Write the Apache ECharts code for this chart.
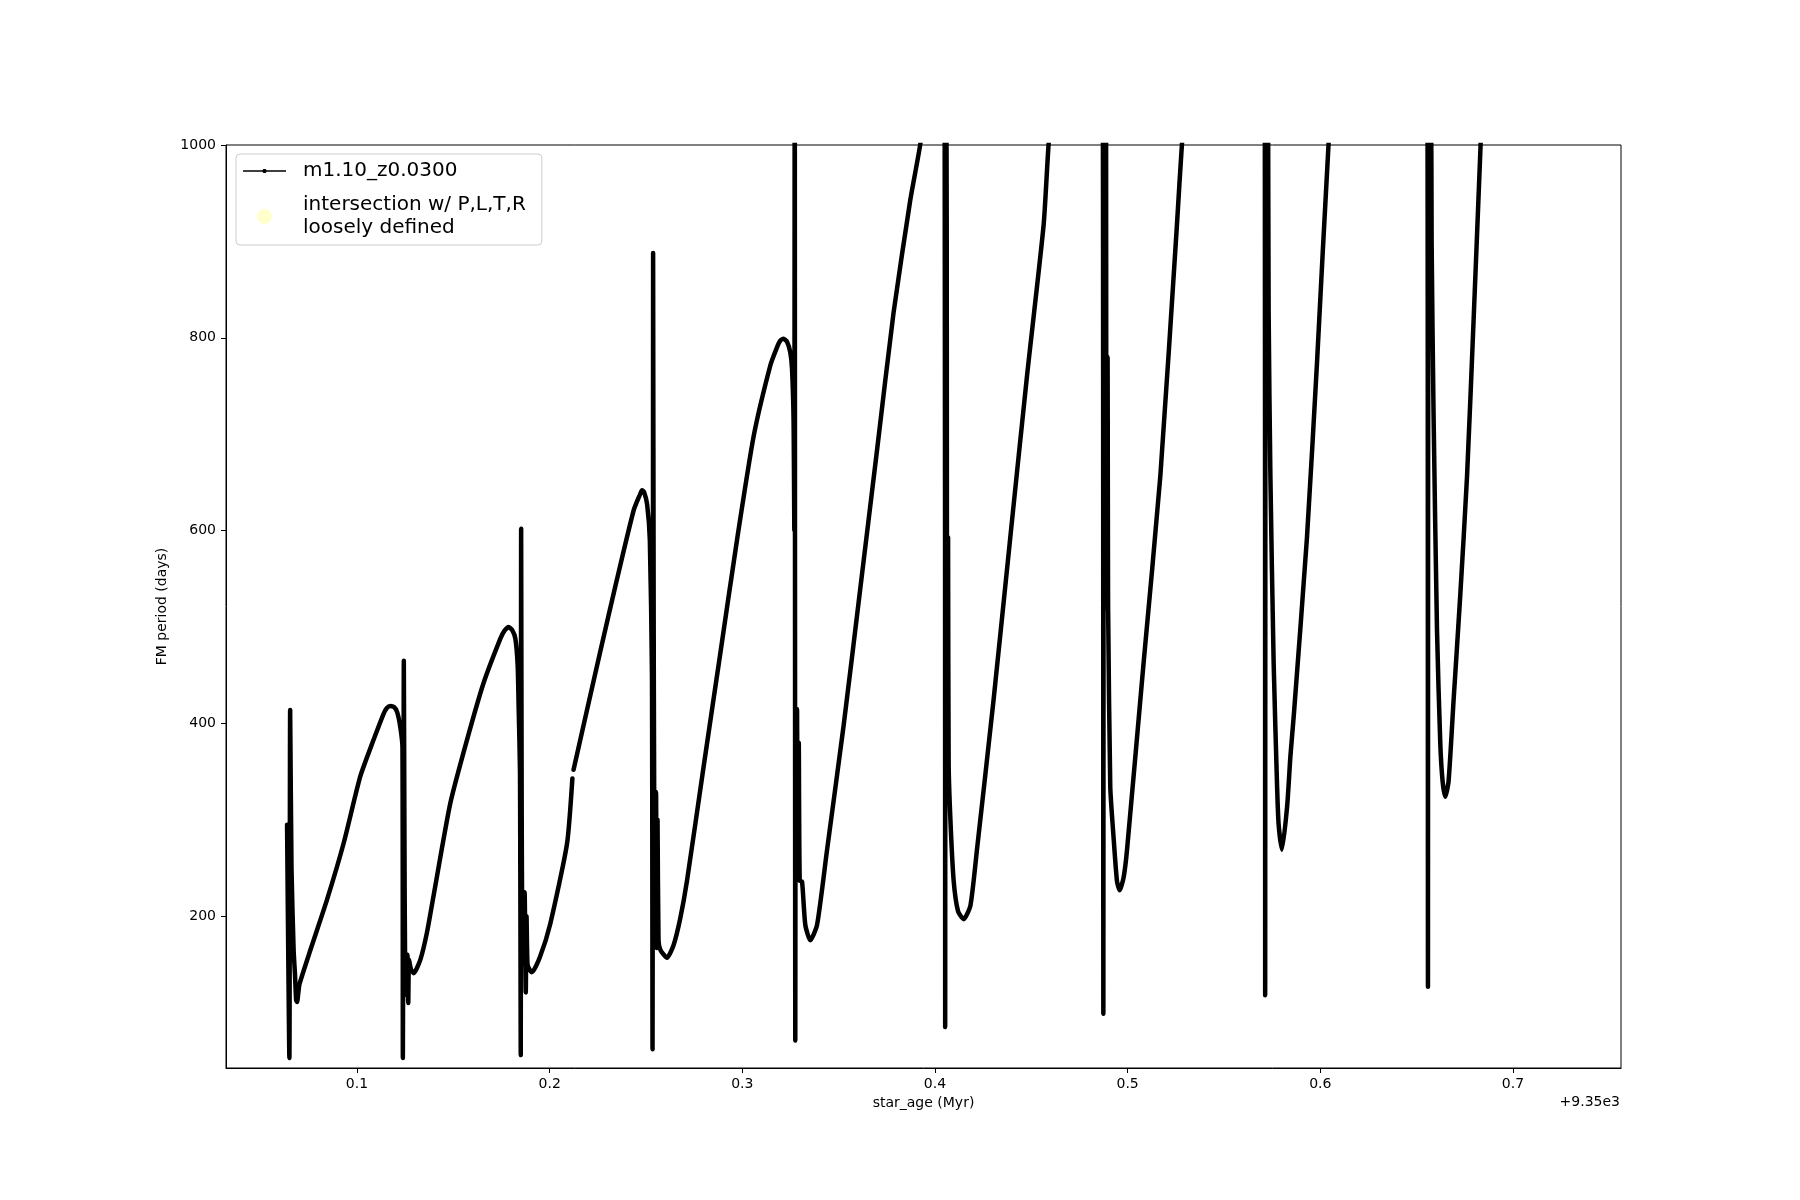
<!DOCTYPE html>
<html><head><meta charset="utf-8">
<script src="https://cdn.jsdelivr.net/npm/echarts@6/dist/echarts.min.js"></script>
<style>html,body{margin:0;padding:0;background:#fff}#chart{width:1800px;height:1200px}</style>
</head><body><div id="chart"></div>
<script>
// star_age is plotted relative to this offset (Myr), shown as "+9.35e3"
const ageOffset = 9350;
// star_age - 9350 (Myr)
const ages = [
  0.0637,0.0649,0.0653,0.0660,0.0671,0.0678,0.0684,0.0689,0.0695,0.0702,
  0.0758,0.0844,0.0931,0.1017,0.1086,0.1138,0.1155,0.1173,0.1192,0.1208,0.1225,0.1236,
  0.1238,0.1241,0.1243,0.1246,0.1250,0.1258,0.1262,0.1266,0.1270,0.1280,0.1294,
  0.1329,0.1363,0.1398,0.1484,0.1571,0.1657,0.1744,0.1765,0.1787,0.1805,0.1822,0.1834,0.1839,0.1846,
  0.1850,0.1851,0.1852,0.1855,0.1860,0.1870,0.1876,0.1880,0.1885,0.1895,0.1908,
  0.1950,0.2003,0.2090,0.2118,0.2120,0.2124,0.2263,0.2350,0.2436,0.2470,0.2479,0.2490,0.2506,0.2520,0.2531,
  0.2534,0.2536,0.2537,0.2540,0.2545,0.2552,0.2556,0.2560,0.2565,0.2575,0.2609,
  0.2643,0.2678,0.2713,0.2799,0.2886,0.2973,0.3059,0.3145,0.3180,0.3197,0.3214,0.3232,0.3249,0.3258,0.3266,0.3270,
  0.3272,0.3275,0.3277,0.3281,0.3284,0.3288,0.3293,0.3298,0.3310,0.3327,0.3353,0.3388,0.3440,
  0.3526,0.3613,0.3699,0.3785,0.3872,0.3924,0.3960,
  0.4050,0.4053,0.4055,0.4057,0.4059,0.4061,0.4063,0.4065,0.4067,0.4068,0.4071,0.4080,0.4097,0.4120,0.4149,0.4184,0.4218,
  0.4304,0.4391,0.4478,0.4564,0.4590,0.4620,
  0.4870,0.4874,0.4876,0.4878,0.4880,0.4882,0.4884,0.4886,0.4888,0.4890,0.4892,0.4894,0.4896,0.4899,0.4901,0.4910,0.4927,0.4945,0.4959,0.4979,0.4997,
  0.5083,0.5170,0.5256,0.5282,0.5310,
  0.5712,0.5714,0.5716,0.5718,0.5720,0.5722,0.5724,0.5726,0.5729,0.5732,0.5741,0.5758,0.5776,0.5784,0.5801,0.5828,0.5845,0.5862,
  0.5931,0.5983,0.6043,0.6070,
  0.6555,0.6559,0.6562,0.6575,0.6578,0.6588,0.6606,0.6623,0.6635,0.6649,0.6666,0.6692,0.6727,0.6762,0.6796,0.6831,0.6850
];
// FM period (days); null marks a gap in the track
const periods = [
  295,53,414,250,165,140,113,111,120,130,
  165,217,276,345,383,410,416,418,417,412,396,375,
  53,250,465,300,140,118,160,110,155,145,141,
  155,183,222,317,383,442,488,496,500,497,488,460,417,350,
  56,300,602,300,150,225,121,200,150,145,142,
  158,192,275,343,null,352,475,550,621,638,642,640,627,590,450,
  62,400,888,500,250,329,167,300,175,165,157,
  170,198,237,355,473,591,698,771,790,797,799,796,785,768,715,600,
  1150,71,415,237,415,240,380,237,236,191,175,191,269,
  398,541,683,826,943,1001,1060,
  1100,85,1050,924,1050,924,360,593,360,593,359,301,237,205,197,211,269,
  424,593,761,917,1001,1060,
  1100,99,1100,780,1050,520,780,520,1050,520,780,520,780,515,515,334,282,236,227,240,269,
  463,657,917,1001,1060,
  1100,118,1100,826,1050,826,1050,826,1050,826,658,463,334,295,269,314,366,407,
  593,774,1001,1060,
  1100,127,1100,1050,900,722,496,379,340,324,340,424,534,657,819,994,1100
];
const xTicks = [0.1,0.2,0.3,0.4,0.5,0.6,0.7];
const yTicks = [200,400,600,800,1000];
const seriesName = 'm1.10_z0.0300';
const markerName = 'intersection w/ P,L,T,R\nloosely defined';

const FONT = 'DejaVu Sans';
const data = ages.map((a, i) => [a, periods[i] === null ? '-' : periods[i]]);
// legend icon: thin line with a small dot marker (43 x 15 box)
const lineIcon = 'path://M0,0h0.01v0.01h-0.01Z M0,6.75h43v1.5h-43Z M20.5,5.5h2l1,1v2l-1,1h-2l-1,-1v-2Z M42.99,14.99h0.01v0.01h-0.01Z';

const chart = echarts.init(document.getElementById('chart'), null, {renderer: 'canvas'});
chart.setOption({
  animation: false,
  backgroundColor: '#ffffff',
  grid: {left: 226, top: 145, right: 179, bottom: 132, show: true, borderColor: '#000', borderWidth: 1, backgroundColor: 'transparent'},
  xAxis: {
    type: 'value', min: 0.032, max: 0.7561,
    name: 'star_age (Myr)', nameLocation: 'middle', nameGap: 27,
    nameTextStyle: {fontFamily: FONT, fontSize: 14, color: '#000'},
    axisLine: {show: true, onZero: false, lineStyle: {color: '#000', width: 1}},
    axisTick: {show: true, inside: false, length: 5, customValues: xTicks, lineStyle: {color: '#000'}},
    axisLabel: {customValues: xTicks, margin: 9, fontFamily: FONT, fontSize: 14, color: '#000', formatter: v => v.toFixed(1)},
    splitLine: {show: false}
  },
  yAxis: {
    type: 'value', min: 42.6, max: 1000,
    name: 'FM period (days)', nameLocation: 'middle', nameGap: 47, nameRotate: 90,
    nameTextStyle: {fontFamily: FONT, fontSize: 14, color: '#000'},
    axisLine: {show: true, onZero: false, lineStyle: {color: '#000', width: 1}},
    axisTick: {show: true, inside: false, length: 5, customValues: yTicks, lineStyle: {color: '#000'}},
    axisLabel: {customValues: yTicks, margin: 10, fontFamily: FONT, fontSize: 14, color: '#000', formatter: v => String(v)},
    splitLine: {show: false}
  },
  legend: {
    show: true, orient: 'vertical', left: 236, top: 154,
    padding: [7, 16, 7, 7], itemGap: 14, itemWidth: 43, itemHeight: 15,
    backgroundColor: 'rgba(255,255,255,0.8)', borderColor: '#cccccc', borderWidth: 1, borderRadius: 4,
    data: [{name: seriesName, icon: lineIcon}, {name: markerName}],
    formatter: name => name.split('\n').map(s => '{t|' + s + '}').join('\n'),
    textStyle: {
      fontFamily: FONT, fontSize: 20, color: '#000',
      rich: {t: {fontFamily: FONT, fontSize: 20, color: '#000', lineHeight: 23, padding: [0, 0, 0, 12]}}
    }
  },
  graphic: [{
    type: 'text', x: 1620, y: 1102,
    style: {text: '+' + (ageOffset / 1000).toFixed(2) + 'e3', align: 'right', verticalAlign: 'middle',
            fontFamily: FONT, fontSize: 14, fill: '#000'}
  }],
  series: [
    {
      name: seriesName, type: 'line', data: data, clip: true,
      showSymbol: false, symbol: 'circle', symbolSize: 4,
      connectNulls: false, smooth: 0.2,
      lineStyle: {color: '#000', width: 4.5, cap: 'round', join: 'round'},
      itemStyle: {color: '#000'}
    },
    {
      name: markerName, type: 'scatter', data: [],
      symbol: 'circle', symbolSize: 15,
      itemStyle: {color: 'rgba(255,255,0,0.25)'}
    }
  ]
});
</script></body></html>
